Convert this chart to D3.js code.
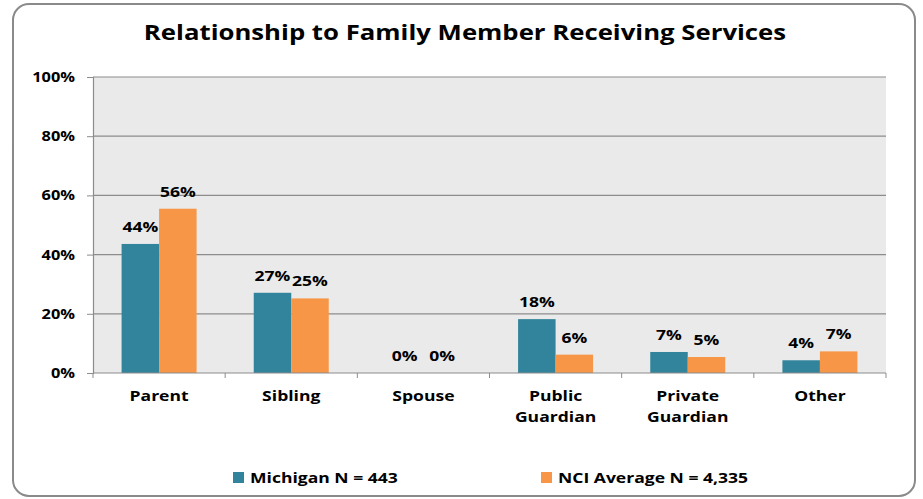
<!DOCTYPE html>
<html>
<head>
<meta charset="utf-8">
<script src="https://cdn.jsdelivr.net/npm/d3@7"></script>
<style>
    body { margin: 0; background: #fff; }
    svg text { font-family: "Open Sans", sans-serif; font-weight: bold; fill: #000; }
</style>
</head>
<body>
<svg id="chart" width="923" height="499"></svg>
<script>
// Chart data
const categories = ['Parent', 'Sibling', 'Spouse', 'Public Guardian', 'Private Guardian', 'Other'];
const seriesNames = ['Michigan N = 443', 'NCI Average N = 4,335'];
const michigan = [43.6, 27.1, 0, 18.2, 7.1, 4.3];
const nciAverage = [55.5, 25.2, 0, 6.2, 5.4, 7.3];
const michiganLabels = ['44%', '27%', '0%', '18%', '7%', '4%'];
const nciLabels = ['56%', '25%', '0%', '6%', '5%', '7%'];
const yTicks = [0, 20, 40, 60, 80, 100];

const colors = ['#31849B', '#F79646'];

// the original type is set wider than Open Sans, so stretch text horizontally
const STRETCH = 1.17;
function stretch(sel) {
    sel.each(function () {
        const t = d3.select(this);
        const x0 = +t.attr('x') || 0;
        t.attr('transform', `translate(${x0 * (1 - STRETCH)},0) scale(${STRETCH},1)`);
    });
}

const svg = d3.select('#chart');

// Outer frame
svg.append('rect')
    .attr('x', 13).attr('y', 4)
    .attr('width', 902).attr('height', 492)
    .attr('rx', 16).attr('ry', 16)
    .attr('fill', '#fff')
    .attr('stroke', '#8a8a8a')
    .attr('stroke-width', 2);

// Title
svg.append('text')
    .attr('x', 465).attr('y', 40)
    .attr('text-anchor', 'middle')
    .attr('font-size', '22px')
    .text('Relationship to Family Member Receiving Services')
    .call(stretch);

const plot = { left: 93, top: 77, right: 886, bottom: 373 };

const x = d3.scaleBand()
    .domain(categories)
    .range([plot.left, plot.right]);

const xInner = d3.scaleBand()
    .domain([0, 1])
    .range([0, 75]);

const y = d3.scaleLinear()
    .domain([0, 100])
    .range([plot.bottom, plot.top]);

// Plot background
svg.append('rect')
    .attr('x', plot.left).attr('y', plot.top)
    .attr('width', plot.right - plot.left)
    .attr('height', plot.bottom - plot.top)
    .attr('fill', '#eaeaea');

// Gridlines
svg.append('g')
    .selectAll('line')
    .data(yTicks.filter(d => d > 0))
    .join('line')
    .attr('x1', plot.left).attr('x2', plot.right)
    .attr('y1', d => y(d)).attr('y2', d => y(d))
    .attr('stroke', '#8c8c8c')
    .attr('stroke-width', 1.2);

// Y axis
const yAxis = svg.append('g')
    .attr('transform', `translate(${plot.left},0)`)
    .call(d3.axisLeft(y).tickValues(yTicks).tickFormat(d => d + '%').tickSize(6).tickPadding(12));
yAxis.select('.domain').attr('stroke', '#8c8c8c').attr('stroke-width', 1.2);
yAxis.selectAll('.tick line').attr('stroke', '#8c8c8c');
yAxis.selectAll('.tick text')
    .attr('font-size', '14px')
    .attr('font-family', '"Open Sans", sans-serif')
    .attr('font-weight', 'bold')
    .attr('fill', '#000')
    .call(stretch);

// Bars
const groups = svg.append('g')
    .selectAll('g')
    .data(categories)
    .join('g')
    .attr('transform', d => `translate(${x(d) + (x.bandwidth() - 75) / 2},0)`);

const seriesValues = [michigan, nciAverage];
const seriesLabels = [michiganLabels, nciLabels];

groups.selectAll('rect')
    .data((d, i) => seriesValues.map((vals, s) => ({ s, v: vals[i] })))
    .join('rect')
    .attr('x', d => xInner(d.s))
    .attr('width', xInner.bandwidth())
    .attr('y', d => y(d.v))
    .attr('height', d => y(0) - y(d.v))
    .attr('fill', d => colors[d.s]);

groups.selectAll('text.val')
    .data((d, i) => seriesValues.map((vals, s) => ({ s, v: vals[i], label: seriesLabels[s][i] })))
    .join('text')
    .attr('class', 'val')
    .attr('x', d => xInner(d.s) + xInner.bandwidth() / 2)
    .attr('y', d => y(d.v) - 12)
    .attr('text-anchor', 'middle')
    .attr('font-size', '15px')
    .text(d => d.label)
    .call(stretch);

// X axis line and ticks
const xAxis = svg.append('g');
xAxis.append('line')
    .attr('x1', plot.left).attr('x2', plot.right)
    .attr('y1', plot.bottom).attr('y2', plot.bottom)
    .attr('stroke', '#8c8c8c').attr('stroke-width', 1.2);
xAxis.selectAll('line.tick')
    .data(categories.concat(['end']))
    .join('line')
    .attr('class', 'tick')
    .attr('x1', (d, i) => i < categories.length ? x(d) : plot.right)
    .attr('x2', (d, i) => i < categories.length ? x(d) : plot.right)
    .attr('y1', plot.bottom).attr('y2', plot.bottom + 5)
    .attr('stroke', '#8c8c8c');

// Category labels (wrapped)
xAxis.selectAll('text')
    .data(categories)
    .join('text')
    .attr('text-anchor', 'middle')
    .attr('font-size', '15px')
    .attr('x', d => x(d) + x.bandwidth() / 2)
    .each(function (d) {
        const words = d.split(' ');
        const t = d3.select(this);
        words.forEach((w, i) => {
            t.append('tspan')
                .attr('x', x(d) + x.bandwidth() / 2)
                .attr('y', 401 + i * 21)
                .text(w);
        });
    })
    .call(stretch);

// Legend
const legendX = [233, 541];
const legend = svg.append('g')
    .selectAll('g')
    .data(seriesNames)
    .join('g')
    .attr('transform', (d, i) => `translate(${legendX[i]},472)`);
legend.append('rect')
    .attr('width', 11).attr('height', 11)
    .attr('fill', (d, i) => colors[i]);
legend.append('text')
    .attr('x', 17).attr('y', 11)
    .attr('font-size', '15px')
    .text(d => d)
    .call(stretch);
</script>
</body>
</html>
